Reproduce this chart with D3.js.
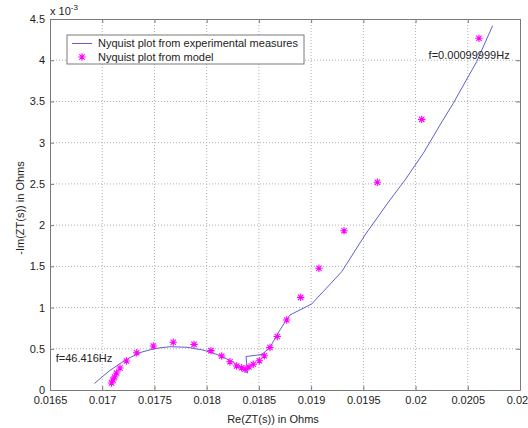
<!DOCTYPE html>
<html>
<head>
<meta charset="utf-8">
<script src="https://cdn.jsdelivr.net/npm/d3@7"></script>
<style>
  body { margin: 0; background: #fff; }
  svg { display: block; font-family: "Liberation Sans", Arial, sans-serif; }
</style>
</head>
<body>
<svg id="chart" width="528" height="428"></svg>
<script>
// ---- data (x in Ohms, y in 1e-3 Ohms) ----
const expRe = [0.016926, 0.016998, 0.017074, 0.017170, 0.017266, 0.017381, 0.017505, 0.017649,
  0.017812, 0.017965, 0.018128, 0.018252, 0.018335, 0.018391, 0.018377, 0.018530, 0.018606,
  0.018702, 0.018766, 0.018798, 0.019005, 0.019293, 0.019516, 0.019755, 0.019899, 0.020074,
  0.020234, 0.020361, 0.020585, 0.020738];
const expIm = [0.079, 0.158, 0.237, 0.321, 0.394, 0.461, 0.503, 0.525,
  0.518, 0.485, 0.418, 0.340, 0.263, 0.206, 0.406, 0.431, 0.518,
  0.728, 0.855, 0.910, 1.043, 1.435, 1.880, 2.305, 2.547, 2.871,
  3.214, 3.478, 3.982, 4.419];
const modRe = [0.017089, 0.017103, 0.017118, 0.017137, 0.017170, 0.017232, 0.017330, 0.017489,
  0.017680, 0.017879, 0.018041, 0.018144, 0.018223, 0.018287, 0.018335, 0.018367, 0.018405,
  0.018446, 0.018504, 0.018552, 0.018606, 0.018676, 0.018766, 0.018900, 0.019075, 0.019315,
  0.019634, 0.020059, 0.020607];
const modIm = [0.085, 0.121, 0.158, 0.206, 0.267, 0.352, 0.452, 0.534,
  0.579, 0.554, 0.477, 0.412, 0.343, 0.291, 0.270, 0.251, 0.279,
  0.312, 0.355, 0.416, 0.516, 0.649, 0.849, 1.124, 1.476, 1.932,
  2.519, 3.283, 4.266];
const xTicks = [0.0165, 0.017, 0.0175, 0.018, 0.0185, 0.019, 0.0195, 0.02, 0.0205, 0.021];
const yTicks = [0, 0.5, 1, 1.5, 2, 2.5, 3, 3.5, 4, 4.5];
const legendLabels = ["Nyquist plot from experimental measures", "Nyquist plot from model"];
const annotations = [
  {text: "f=0.00099999Hz", x: 0.020125, y: 4.065},
  {text: "f=46.416Hz", x: 0.016555, y: 0.385}
];

// ---- layout ----
const L = 50, R = 520, T = 19, B = 390;
const svg = d3.select("#chart");
const x = d3.scaleLinear().domain([0.0165, 0.021]).range([L, R]);
const y = d3.scaleLinear().domain([0, 4.5]).range([B, T]);
const textCol = "#222";
const axisCol = "#7a7a7a";

// grid
const grid = svg.append("g");
xTicks.slice(1, -1).forEach(t => grid.append("line")
  .attr("x1", x(t)).attr("x2", x(t)).attr("y1", T).attr("y2", B)
  .attr("stroke", "#b0b0b0").attr("stroke-dasharray", "1,2").attr("stroke-width", 1));
yTicks.slice(1, -1).forEach(t => grid.append("line")
  .attr("x1", L).attr("x2", R).attr("y1", y(t)).attr("y2", y(t))
  .attr("stroke", "#b0b0b0").attr("stroke-dasharray", "1,2").attr("stroke-width", 1));

// axes
const fmtX = d => String(+d.toFixed(4));
const fmtY = d => String(+d.toFixed(1));
const axB = svg.append("g").attr("transform", `translate(0,${B})`)
  .call(d3.axisBottom(x).tickValues(xTicks).tickFormat(fmtX).tickSizeInner(-4).tickSizeOuter(0).tickPadding(6));
const axT = svg.append("g").attr("transform", `translate(0,${T})`)
  .call(d3.axisTop(x).tickValues(xTicks).tickFormat("").tickSizeInner(-4).tickSizeOuter(0));
const axL = svg.append("g").attr("transform", `translate(${L},0)`)
  .call(d3.axisLeft(y).tickValues(yTicks).tickFormat(fmtY).tickSizeInner(-4).tickSizeOuter(0).tickPadding(5));
const axR = svg.append("g").attr("transform", `translate(${R},0)`)
  .call(d3.axisRight(y).tickValues(yTicks).tickFormat("").tickSizeInner(-4).tickSizeOuter(0));
[axB, axT, axL, axR].forEach(g => {
  g.selectAll("path").attr("stroke", axisCol);
  g.selectAll("line").attr("stroke", axisCol);
  g.selectAll("text").attr("fill", textCol).attr("font-size", 11)
    .attr("font-family", "'Liberation Sans', Arial, sans-serif");
});
axL.selectAll("text").attr("dy", "0.32em");

// clip for data
svg.append("clipPath").attr("id", "clip").append("rect")
  .attr("x", L).attr("y", T).attr("width", R - L).attr("height", B - T);

// experimental line
const lineGen = d3.line().x(d => x(d[0])).y(d => y(d[1]));
svg.append("path")
  .datum(expRe.map((v, i) => [v, expIm[i]]))
  .attr("d", lineGen).attr("fill", "none")
  .attr("stroke", "#6060d0").attr("stroke-width", 1).attr("clip-path", "url(#clip)");

// star marker
function star(g, cx, cy, r) {
  const d = r * 0.72;
  g.append("path")
    .attr("d", `M${cx - r},${cy}H${cx + r}M${cx},${cy - r}V${cy + r}` +
      `M${cx - d},${cy - d}L${cx + d},${cy + d}M${cx - d},${cy + d}L${cx + d},${cy - d}`)
    .attr("stroke", "#ff00ff").attr("stroke-width", 1.1).attr("fill", "none");
}
const marks = svg.append("g");
modRe.forEach((v, i) => star(marks, x(v), y(modIm[i]), 3.7));

// annotations
annotations.forEach(a => svg.append("text")
  .attr("x", x(a.x)).attr("y", y(a.y)).attr("font-size", 11).attr("fill", textCol)
  .attr("dy", "0.35em").text(a.text));

// legend
const lg = svg.append("g");
lg.append("rect").attr("x", 67).attr("y", 35).attr("width", 237).attr("height", 29)
  .attr("fill", "#fff").attr("stroke", axisCol);
lg.append("line").attr("x1", 72).attr("x2", 92).attr("y1", 43.5).attr("y2", 43.5)
  .attr("stroke", "#6060d0").attr("stroke-width", 1);
star(lg, 82, 57, 3.7);
legendLabels.forEach((t, i) => lg.append("text").attr("x", 98).attr("y", 43.5 + i * 13.5)
  .attr("dy", "0.35em").attr("font-size", 11).attr("fill", textCol).text(t));

// exponent label
const ex = svg.append("text").attr("x", 50).attr("y", 15).attr("font-size", 11).attr("fill", textCol);
ex.append("tspan").text("x 10");
ex.append("tspan").attr("dy", -5).attr("font-size", 8).text("-3");

// axis titles
svg.append("text").attr("x", 273).attr("y", 423).attr("text-anchor", "middle")
  .attr("font-size", 11).attr("fill", textCol).text("Re(ZT(s)) in Ohms");
svg.append("text").attr("transform", "translate(24,208) rotate(-90)").attr("text-anchor", "middle")
  .attr("font-size", 11).attr("fill", textCol).text("-Im(ZT(s)) in Ohms");
</script>
</body>
</html>
